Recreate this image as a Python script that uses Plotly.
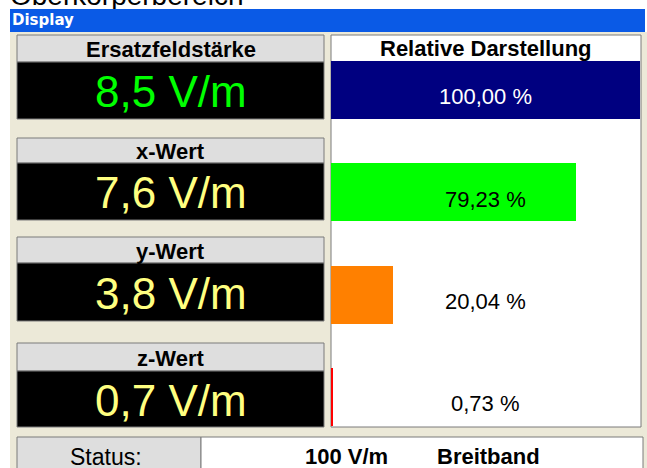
import plotly.graph_objects as go

# ---------------- data ----------------
labels = ["Ersatzfeldstärke", "x-Wert", "y-Wert", "z-Wert"]
field_values = [8.5, 7.6, 3.8, 0.7]          # V/m
relative_pct = [100.00, 79.23, 20.04, 0.73]  # %
bar_colors = ["#000080", "#00FF00", "#FF8000", "#FF0000"]
value_colors = ["#00FF00", "#FFFF80", "#FFFF80", "#FFFF80"]
pct_text_colors = ["#FFFFFF", "#000000", "#000000", "#000000"]
page_title = "Oberkörperbereich"
window_title = "Display"
right_title = "Relative Darstellung"
status_label = "Status:"
status_range = "100 V/m"
status_mode = "Breitband"

# ---------------- layout helpers (pixel -> paper) ----------------
W, H = 647, 468
def px(x):
    return x / W
def py(y):
    return 1 - y / H

FONT = "Liberation Sans, Arial, sans-serif"
BEIGE = "#ECE9D8"
HEADER_GRAY = "#DEDEDE"
BORDER = "#7A7A7A"

def fmt_val(v):
    return f"{v:.1f}".replace(".", ",") + " V/m"

def fmt_pct(p):
    return f"{p:.2f}".replace(".", ",") + " %"

header_tops = [35, 138, 237, 343]
black_tops = [62, 163, 263, 371]
black_bottoms = [119, 220, 321, 427]

shapes = []
def rect(x0, y0, x1, y1, fill, line=None, lw=0, layer="below"):
    shapes.append(dict(type="rect", xref="paper", yref="paper",
                       x0=px(x0), x1=px(x1), y0=py(y1), y1=py(y0),
                       fillcolor=fill, layer=layer,
                       line=dict(color=line or fill, width=lw)))

# window background
rect(10, 32, 647, 468, BEIGE)
# left panels
for ht, bt, bb in zip(header_tops, black_tops, black_bottoms):
    rect(17, ht, 324, bt, HEADER_GRAY, BORDER, 1)
    rect(17, bt, 324, bb, "#000000", BORDER, 1)
# right panel
rect(331, 35, 641, 427, "#FFFFFF", BORDER, 1)
# status bar
rect(17, 437, 201, 470, HEADER_GRAY, BORDER, 1)
rect(201, 437, 643, 470, "#FFFFFF", BORDER, 1)
# blue title bar (above, to hide cut-off title descenders)
rect(10, 9, 645, 32, "#0A5AE6", layer="above")

fig = go.Figure()

# relative bars
fig.add_trace(go.Bar(
    x=relative_pct, y=labels, orientation="h",
    marker=dict(color=bar_colors, line=dict(width=0)),
    width=0.567, xaxis="x2", yaxis="y2",
    hoverinfo="skip", showlegend=False,
))

# cut-off page title (trace so that the title bar can overlap it)
fig.add_trace(go.Scatter(
    x=[10], y=[12], mode="text", text=[page_title],
    textposition="top right", cliponaxis=False,
    textfont=dict(family=FONT, size=28, color="#000000"),
    xaxis="x3", yaxis="y3", hoverinfo="skip", showlegend=False,
))

annotations = []
def ann(x, y, text, size, color="#000000", bold=False, family=FONT,
        xanchor="center", xref="paper", yref="paper", yshift=0):
    annotations.append(dict(
        x=x, y=y, xref=xref, yref=yref, text=f"<b>{text}</b>" if bold else text,
        showarrow=False, xanchor=xanchor, yanchor="middle", yshift=yshift,
        font=dict(family=family, size=size, color=color)))

ann(px(10), py(20.5), window_title, 15, "#FFFFFF", True,
    family="DejaVu Sans, Verdana, sans-serif", xanchor="left")

for lab, val, col, ht, bt, bb in zip(labels, field_values, value_colors,
                                     header_tops, black_tops, black_bottoms):
    ann(px(170.5), py((ht + bt) / 2 + 1), lab, 22, "#000000", True)
    ann(px(170.5), py((bt + bb) / 2 + 1), fmt_val(val), 44, col)

ann(px(486), py(49), right_title, 22, "#000000", True)

for lab, p, tc in zip(labels, relative_pct, pct_text_colors):
    ann(50, lab, fmt_pct(p), 22, tc, xref="x2", yref="y2", yshift=-7)

ann(px(106), py(456.5), status_label, 23, "#000000")
ann(px(347), py(456.5), status_range, 22, "#000000", True)
ann(px(488), py(456.5), status_mode, 22, "#000000", True)

hidden = dict(visible=False, showgrid=False, zeroline=False, fixedrange=True)
fig.update_layout(
    width=W, height=H,
    margin=dict(l=0, r=0, t=0, b=0),
    paper_bgcolor="#FFFFFF", plot_bgcolor="rgba(0,0,0,0)",
    xaxis2=dict(domain=[px(331), px(640)], range=[0, 100], anchor="y2", **hidden),
    yaxis2=dict(domain=[py(448.1), py(38.7)], anchor="x2", type="category",
                categoryorder="array", categoryarray=labels,
                range=[3.5, -0.5], **hidden),
    xaxis3=dict(domain=[0, 1], range=[0, W], anchor="y3", **hidden),
    yaxis3=dict(domain=[0, 1], range=[H, 0], anchor="x3", **hidden),
    xaxis=dict(visible=False), yaxis=dict(visible=False),
    shapes=shapes, annotations=annotations,
    bargap=0,
)

fig.write_html(
    "out.html",
    config={"displayModeBar": False, "staticPlot": True},
    post_script="document.body.style.margin='0';document.body.style.padding='0';",
)
